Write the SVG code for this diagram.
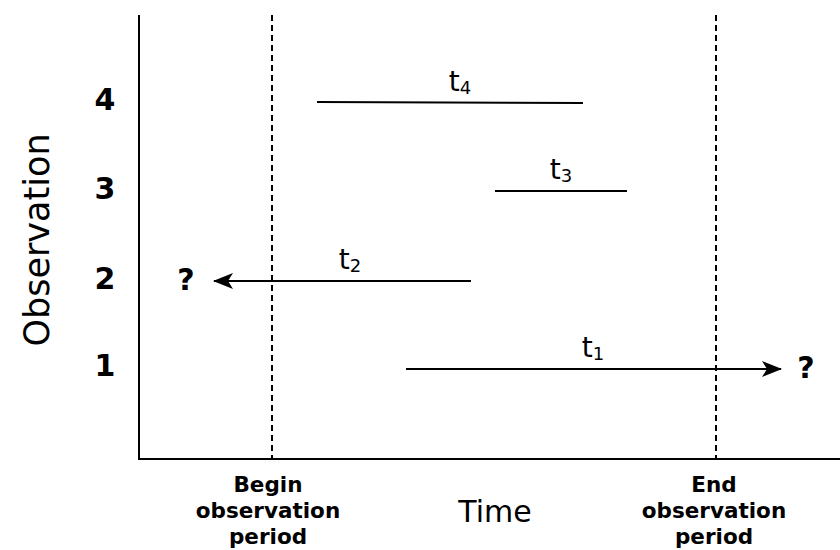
<svg xmlns="http://www.w3.org/2000/svg" width="840" height="550" viewBox="0 0 840 550">
<style>
.ax{stroke:#000;stroke-width:2;fill:none}
.dash{stroke:#000;stroke-width:2;stroke-dasharray:6 4;fill:none}
.seg{stroke:#000;stroke-width:2;fill:none}
.num{font-family:"DejaVu Sans",Verdana,sans-serif;font-weight:bold;font-size:30px;text-anchor:middle}
.lbl{font-family:"DejaVu Sans",Verdana,sans-serif;font-size:28px;text-anchor:middle}
.sub{font-size:18px}
.per{font-family:"DejaVu Sans",Verdana,sans-serif;font-weight:bold;font-size:21.5px;text-anchor:middle}
.big{font-family:"DejaVu Sans",Verdana,sans-serif;font-size:35px;text-anchor:middle}
</style>
<defs>
<marker id="ah" viewBox="0 0 20 16" refX="19" refY="8" markerWidth="20" markerHeight="16" markerUnits="userSpaceOnUse" orient="auto">
<path d="M0,0 L20,8 L0,16 L5,8 Z" fill="#000"/>
</marker>
</defs>
<rect width="840" height="550" fill="#fff"/>
<g id="axes">
<line class="ax" x1="139" y1="15" x2="139" y2="459"/>
<line class="ax" x1="138" y1="459" x2="840" y2="459"/>
</g>
<g id="begin-line"><line class="dash" x1="272" y1="15" x2="272" y2="459"/></g>
<g id="end-line"><line class="dash" x1="716" y1="15" x2="716" y2="459"/></g>
<g id="connectors">
<line class="seg" x1="317" y1="102" x2="583" y2="103"/>
<line class="seg" x1="495" y1="191" x2="627" y2="191"/>
<line class="seg" x1="471" y1="281" x2="214" y2="281" marker-end="url(#ah)"/>
<line class="seg" x1="406" y1="369" x2="781" y2="369" marker-end="url(#ah)"/>
</g>
<g id="labels">
<text class="lbl" x="460" y="91">t<tspan class="sub" dy="3">4</tspan></text>
<text class="lbl" x="561" y="179">t<tspan class="sub" dy="3">3</tspan></text>
<text class="lbl" x="350" y="269">t<tspan class="sub" dy="3">2</tspan></text>
<text class="lbl" x="593" y="357">t<tspan class="sub" dy="3">1</tspan></text>
<text class="num" x="186" y="290">?</text>
<text class="num" x="806" y="378">?</text>
</g>
<g id="y-ticks">
<text class="num" x="105" y="110">4</text>
<text class="num" x="105" y="199">3</text>
<text class="num" x="105" y="289">2</text>
<text class="num" x="105" y="376">1</text>
</g>
<g id="y-title"><text class="big" transform="translate(49,240) rotate(-90)">Observation</text></g>
<g id="x-title"><text class="big" x="495" y="522" style="font-size:30px">Time</text></g>
<g id="begin-label">
<text class="per" x="268" y="492">Begin</text>
<text class="per" x="268" y="518">observation</text>
<text class="per" x="268" y="544">period</text>
</g>
<g id="end-label">
<text class="per" x="714" y="492">End</text>
<text class="per" x="714" y="518">observation</text>
<text class="per" x="714" y="544">period</text>
</g>
</svg>
